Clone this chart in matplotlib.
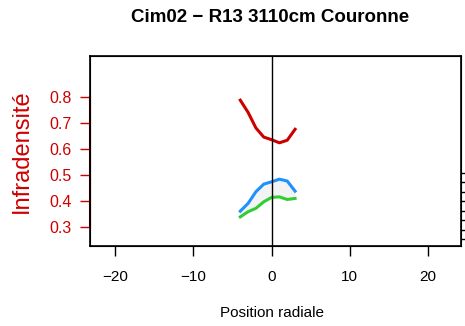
import matplotlib
matplotlib.use("Agg")
import matplotlib.pyplot as plt

plt.rcParams['font.family'] = ['Liberation Sans', 'DejaVu Sans']

# ── data ──────────────────────────────────────────────────────────────────────
position = [-4, -3, -2, -1, 0, 1, 2, 3]
infra_red = [0.787, 0.740, 0.680, 0.645, 0.635, 0.623, 0.633, 0.675]
infra_blue = [0.360, 0.390, 0.435, 0.464, 0.473, 0.483, 0.476, 0.437]
infra_green = [0.338, 0.358, 0.371, 0.396, 0.413, 0.415, 0.405, 0.409]
y_ticks = [0.3, 0.4, 0.5, 0.6, 0.7, 0.8]
x_ticks = [-20, -10, 0, 10, 20]
right_ticks = [0, 1, 2, 3, 4, 5, 6, 7]

RED = "#CD0000"

fig = plt.figure(figsize=(4.65, 3.26), dpi=100)
ax = fig.add_axes([90 / 465, 80 / 326, 371 / 465, 190 / 326])

ax.fill_between(position, infra_green, infra_blue, color="#f3f3f3", lw=0)
ax.plot(position, infra_red, color=RED, lw=2.2)
ax.plot(position, infra_blue, color="#1E90FF", lw=2.2)
ax.plot(position, infra_green, color="#32CD32", lw=2.2)
ax.axvline(0, color="black", lw=1)

ax.set_xlim(-23.2, 24.2)
ax.set_ylim(0.226, 0.957)
ax.set_xticks(x_ticks)
ax.set_xticklabels(["\u221220", "\u221210", "0", "10", "20"])
ax.set_yticks(y_ticks)
ax.tick_params(axis="x", length=7, width=1, labelsize=11, pad=10)
ax.tick_params(axis="y", length=7, width=1, labelsize=11.5, colors=RED, pad=6)
for s in ax.spines.values():
    s.set_linewidth(1.2)

# red axis line over the box, spanning the tick range
ax.plot([0, 0], [y_ticks[0], y_ticks[-1]], color=RED, lw=1.5,
        transform=ax.get_yaxis_transform(), clip_on=False)

ax.set_ylabel("Infradensité", color=RED, fontsize=17, labelpad=12)

# right-hand axis: ticks only
ax2 = ax.twinx()
ax2.set_ylim(-0.75, 19.41)
ax2.set_yticks(right_ticks)
ax2.set_yticklabels([])
ax2.tick_params(axis="y", length=5, width=1)

fig.text(270 / 465, 1 - 17 / 326, "Cim02 \u2212 R13 3110cm Couronne", ha="center", va="center",
         fontsize=13.5, fontweight="bold")
fig.text(271.5 / 465, 1 - 313 / 326, "Position radiale", ha="center", va="center",
         fontsize=11)

fig.savefig("out.png", dpi=100)
